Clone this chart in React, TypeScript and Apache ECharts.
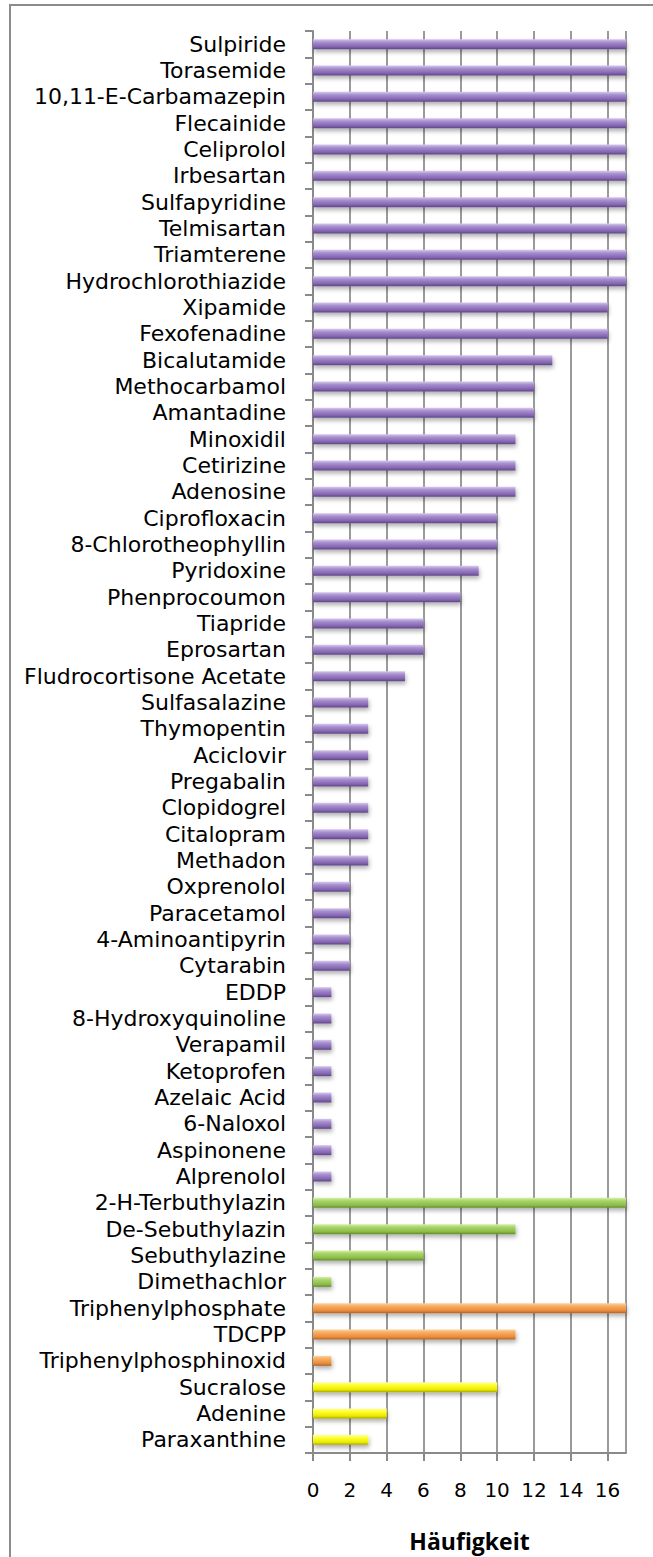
import React, { useEffect, useRef } from "react";
import * as echarts from "echarts";

const categories: string[] = [
  "Sulpiride", "Torasemide", "10,11-E-Carbamazepin", "Flecainide", "Celiprolol", "Irbesartan",
  "Sulfapyridine", "Telmisartan", "Triamterene", "Hydrochlorothiazide", "Xipamide", "Fexofenadine",
  "Bicalutamide", "Methocarbamol", "Amantadine", "Minoxidil", "Cetirizine", "Adenosine",
  "Ciprofloxacin", "8-Chlorotheophyllin", "Pyridoxine", "Phenprocoumon", "Tiapride", "Eprosartan",
  "Fludrocortisone Acetate", "Sulfasalazine", "Thymopentin", "Aciclovir", "Pregabalin", "Clopidogrel",
  "Citalopram", "Methadon", "Oxprenolol", "Paracetamol", "4-Aminoantipyrin", "Cytarabin",
  "EDDP", "8-Hydroxyquinoline", "Verapamil", "Ketoprofen", "Azelaic Acid", "6-Naloxol",
  "Aspinonene", "Alprenolol", "2-H-Terbuthylazin", "De-Sebuthylazin", "Sebuthylazine", "Dimethachlor",
  "Triphenylphosphate", "TDCPP", "Triphenylphosphinoxid", "Sucralose", "Adenine", "Paraxanthine",
];

const values: number[] = [
  17, 17, 17, 17, 17, 17,
  17, 17, 17, 17, 16, 16,
  13, 12, 12, 11, 11, 11,
  10, 10, 9, 8, 6, 6,
  5, 3, 3, 3, 3, 3,
  3, 3, 2, 2, 2, 2,
  1, 1, 1, 1, 1, 1,
  1, 1, 17, 11, 6, 1,
  17, 11, 1, 10, 4, 3,
];

// group per category: 0 purple (pharma), 1 green (pesticides), 2 orange (flame retardants), 3 yellow (other)
const groups: number[] = [
  0, 0, 0, 0, 0, 0, 0, 0, 0, 0, 0, 0, 0, 0, 0, 0, 0, 0,
  0, 0, 0, 0, 0, 0, 0, 0, 0, 0, 0, 0, 0, 0, 0, 0, 0, 0,
  0, 0, 0, 0, 0, 0, 0, 0, 1, 1, 1, 1, 2, 2, 2, 3, 3, 3,
];

const xTicks = { min: 0, max: 17, interval: 2 };
const axisTitle = "Häufigkeit";

const palettes = [
  ["#d6c8ec", "#a88fd0", "#8465b0", "#5e4585"],
  ["#d7f0a8", "#a8d468", "#8cbc48", "#5f8a2c"],
  ["#fbd49e", "#f8ac62", "#e88c3c", "#b0622a"],
  ["#ffffa8", "#ffff30", "#eaea00", "#a9a500"],
];

function grad(p: string[]) {
  return new echarts.graphic.LinearGradient(0, 0, 0, 1, [
    { offset: 0, color: p[0] },
    { offset: 0.3, color: p[1] },
    { offset: 0.75, color: p[2] },
    { offset: 1, color: p[3] },
  ]);
}

export default function App() {
  const ref = useRef<HTMLDivElement>(null);
  useEffect(() => {
    if (!ref.current) return;
    const chart = echarts.init(ref.current, undefined, { renderer: "svg" });
    const labelFont = "'DejaVu Sans', sans-serif";
    const titleFont = "'Open Sans', sans-serif";
    chart.setOption({
      animation: false,
      backgroundColor: "#ffffff",
      graphic: [
        {
          type: "rect",
          shape: { x: 10, y: 5, width: 700, height: 1600 },
          style: { fill: "none", stroke: "#8c8c8c", lineWidth: 2 },
          silent: true,
        },
      ],
      grid: { left: 313, right: 27, top: 31, bottom: 86, containLabel: false },
      xAxis: {
        type: "value",
        min: xTicks.min,
        max: xTicks.max,
        interval: xTicks.interval,
        name: axisTitle,
        nameLocation: "middle",
        nameGap: 76,
        nameTextStyle: { fontFamily: titleFont, fontSize: 23, fontWeight: "bold", color: "#000" },
        axisLine: { show: true, lineStyle: { color: "#8a8a8a", width: 2 } },
        axisTick: { show: true, length: 8, lineStyle: { color: "#8a8a8a", width: 2 } },
        axisLabel: { fontFamily: labelFont, fontSize: 20, color: "#000", margin: 27 },
        splitLine: { show: true, lineStyle: { color: "#9a9a9a", width: 2 } },
      },
      yAxis: {
        type: "category",
        data: categories,
        inverse: true,
        axisLine: { show: true, lineStyle: { color: "#8a8a8a", width: 2 } },
        axisTick: { show: true, length: 8, lineStyle: { color: "#8a8a8a", width: 2 } },
        axisLabel: {
          fontFamily: labelFont,
          fontSize: 22,
          lineHeight: 24,
          color: "#000",
          margin: 27,
          interval: 0,
        },
      },
      series: [
        {
          type: "bar",
          barWidth: 10,
          data: values.map((v, i) => ({
            value: v,
            itemStyle: {
              color: grad(palettes[groups[i]]),
              shadowBlur: 4,
              shadowOffsetY: 3,
              shadowOffsetX: 1,
              shadowColor: "rgba(0,0,0,0.3)",
            },
          })),
        },
      ],
    });
    return () => chart.dispose();
  }, []);
  return (
    <div
      ref={ref}
      style={{ position: "absolute", left: 0, top: 0, width: 653, height: 1557, background: "#fff" }}
    />
  );
}
